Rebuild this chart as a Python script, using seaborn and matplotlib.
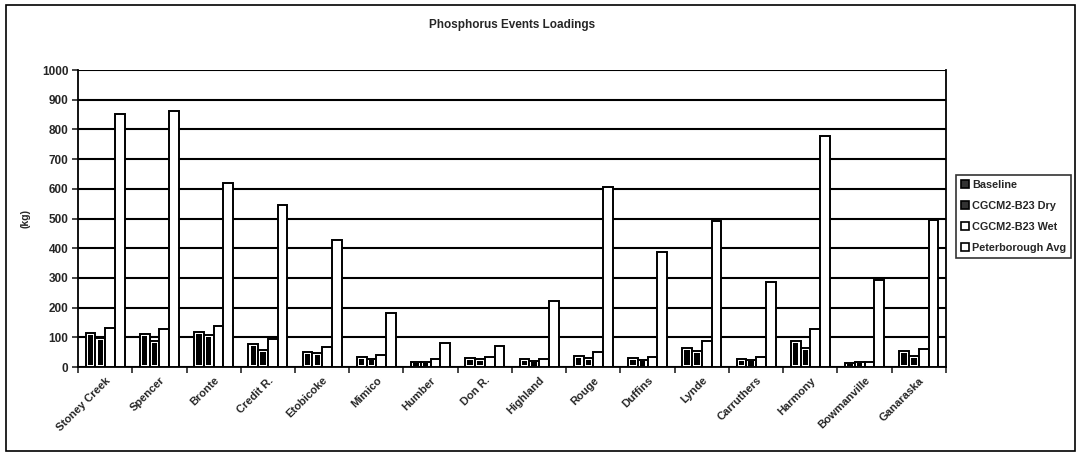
import matplotlib
matplotlib.use("Agg")
import matplotlib.pyplot as plt
from matplotlib.patches import Rectangle
from matplotlib.ticker import FixedLocator
import numpy as np
import pandas as pd
import seaborn as sns

# Watersheds along the shoreline
watersheds = ["Stoney Creek", "Spencer", "Bronte", "Credit R.", "Etobicoke", "Mimico",
              "Humber", "Don R.", "Highland", "Rouge", "Duffins", "Lynde",
              "Carruthers", "Harmony", "Bowmanville", "Ganaraska"]

# Event phosphorus loadings (kg) per scenario
baseline = [114, 111, 117, 78, 50, 33, 18, 29, 26, 38, 31, 63, 27, 88, 12, 55]
cgcm2_dry = [98, 88, 108, 57, 46, 28, 18, 26, 21, 31, 24, 55, 25, 65, 16, 38]
cgcm2_wet = [131, 128, 138, 93, 66, 40, 26, 35, 27, 52, 35, 88, 33, 128, 18, 60]
peterborough_avg = [852, 862, 618, 545, 428, 181, 80, 72, 222, 607, 388, 490, 287, 778, 293, 495]

scenarios = ["Baseline", "CGCM2-B23 Dry", "CGCM2-B23 Wet", "Peterborough Avg"]
y_ticks = list(range(0, 1001, 100))

df = pd.DataFrame({
    "Watershed": watersheds * 4,
    "Scenario": sum([[s] * len(watersheds) for s in scenarios], []),
    "Load": baseline + cgcm2_dry + cgcm2_wet + peterborough_avg,
})

sns.set_style("white")
plt.rcParams["font.family"] = ["Liberation Sans", "DejaVu Sans"]
plt.rcParams["font.weight"] = "bold"

fig = plt.figure(figsize=(10.81, 4.54), dpi=100)
ax = fig.add_axes([0.0722, 0.1916, 0.8028, 0.6542])

sns.barplot(data=df, x="Watershed", y="Load", hue="Scenario", order=watersheds,
            hue_order=scenarios, palette=["white"] * 4, edgecolor="black",
            linewidth=1.4, width=0.72, gap=0.0, dodge=True, ax=ax, legend=False,
            zorder=3)

# Shaded scenarios: dark core inside the outlined bar
n = len(watersheds)
bars = ax.patches[:4 * n]
for i, p in enumerate(bars):
    if i // n in (0, 1) and p.get_height() > 0:
        dx = p.get_width() * 0.22
        dy = min(7.0, p.get_height() * 0.2)
        ax.add_patch(Rectangle((p.get_x() + dx, dy), p.get_width() - 2 * dx,
                               p.get_height() - 2 * dy, facecolor="black",
                               edgecolor="none", zorder=4))

ax.set_ylim(0, 1000)
ax.set_xlim(-0.5, n - 0.5)
ax.yaxis.set_major_locator(FixedLocator(y_ticks))
ax.grid(axis="y", color="black", linewidth=1.5, zorder=0)
ax.set_axisbelow(True)

for side in ["left", "bottom", "right"]:
    ax.spines[side].set_visible(True)
    ax.spines[side].set_color("black")
    ax.spines[side].set_linewidth(1.3)
ax.spines["top"].set_visible(False)

ax.tick_params(axis="y", which="major", left=True, length=4, width=1.2,
               labelsize=8.5, pad=3)
ax.tick_params(axis="x", which="major", length=0, labelsize=8.0, pad=6)
ax.xaxis.set_minor_locator(FixedLocator(np.arange(-0.5, n, 1.0)))
ax.tick_params(axis="x", which="minor", bottom=True, length=4, width=1.2)
for lab in ax.get_xticklabels():
    lab.set_rotation(45)
    lab.set_ha("right")
    lab.set_va("top")
    lab.set_rotation_mode("anchor")
    lab.set_fontweight("bold")
for lab in ax.get_yticklabels():
    lab.set_fontweight("bold")

ax.set_xlabel("")
ax.set_ylabel("(kg)", fontsize=7.5, fontweight="bold", labelpad=8)

fig.text(0.474, 0.944, "Phosphorus Events Loadings", ha="center", va="center",
         fontsize=8.5, fontweight="bold")

# Legend: outlined squares, shaded ones with a dark core
handles = []
for k, s in enumerate(scenarios):
    face = "#333333" if k in (0, 1) else "white"
    handles.append(Rectangle((0, 0), 1, 1, facecolor=face, edgecolor="black",
                             linewidth=1.2, label=s))
leg = fig.legend(handles=handles, loc="upper left", bbox_to_anchor=(0.884, 0.615),
                 frameon=True, fancybox=False, fontsize=7.8, handlelength=0.75,
                 handleheight=0.75, handletextpad=0.25, labelspacing=1.0,
                 borderpad=0.5, borderaxespad=0.0)
leg.get_frame().set_edgecolor("black")
leg.get_frame().set_linewidth(1.2)
for t in leg.get_texts():
    t.set_fontweight("bold")

# Chart-area border
fig.add_artist(Rectangle((0.006, 0.006), 0.988, 0.983, transform=fig.transFigure,
                         fill=False, edgecolor="black", linewidth=1.2))

fig.savefig("out.png", dpi=100, facecolor="white")
